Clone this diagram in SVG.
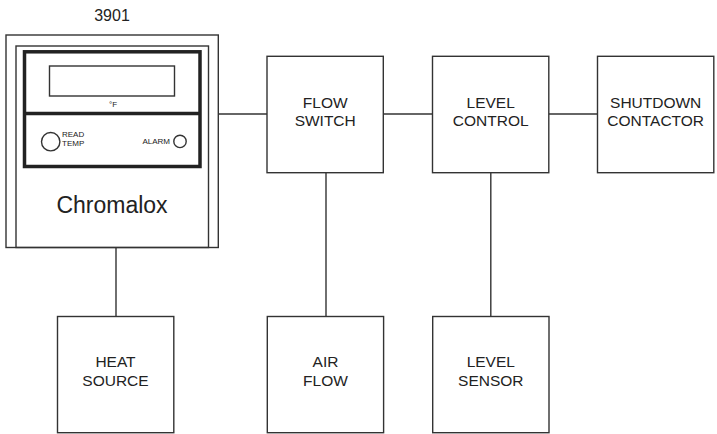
<svg xmlns="http://www.w3.org/2000/svg" width="717" height="434" viewBox="0 0 717 434">
<style>
.b{fill:#fff;stroke:#333;stroke-width:1.4}
.c{fill:none;stroke:#333;stroke-width:1.4}
.t{font-family:"Liberation Sans",Arial,sans-serif;fill:#222;text-anchor:middle}
.l{font-size:15.5px}
</style>
<rect width="717" height="434" fill="#fff"/>
<g id="connectors">
<line class="c" x1="218.3" y1="114" x2="267" y2="114"/>
<line class="c" x1="383.3" y1="114" x2="432.5" y2="114"/>
<line class="c" x1="548.8" y1="114" x2="597.5" y2="114"/>
<line class="c" x1="116" y1="247.5" x2="116" y2="316.5"/>
<line class="c" x1="326" y1="172.7" x2="326" y2="316.5"/>
<line class="c" x1="490.8" y1="172.7" x2="490.8" y2="316.5"/>
</g>
<g id="controller">
<text class="t" x="112" y="20.7" font-size="16">3901</text>
<rect class="b" x="6" y="35" width="212.3" height="212.5"/>
<rect class="c" x="16" y="46" width="192.5" height="201.5"/>
<rect x="24.5" y="51.8" width="175.5" height="114.7" fill="none" stroke="#222" stroke-width="3.5"/>
<line x1="24.5" y1="113.6" x2="200" y2="113.6" stroke="#222" stroke-width="3.5"/>
<rect class="c" x="49.5" y="66" width="125" height="30" stroke-width="1.2"/>
<text class="t" x="113" y="106.7" font-size="8">°F</text>
<circle class="c" cx="50.7" cy="141.7" r="9.2" stroke-width="1.3"/>
<text class="t" x="62" y="137.3" font-size="8" style="text-anchor:start">READ</text>
<text class="t" x="62" y="145.7" font-size="8" style="text-anchor:start">TEMP</text>
<text class="t" x="170" y="144" font-size="8" style="text-anchor:end">ALARM</text>
<circle class="c" cx="180" cy="141.4" r="6.2" stroke-width="1.3"/>
<text class="t" x="112" y="213.3" font-size="23">Chromalox</text>
</g>
<g id="flow-switch">
<rect class="b" x="267" y="56.3" width="116.3" height="116.4"/>
<text class="t l" x="325.2" y="107.7">FLOW</text>
<text class="t l" x="325.2" y="126">SWITCH</text>
</g>
<g id="level-control">
<rect class="b" x="432.5" y="56.3" width="116.3" height="116.4"/>
<text class="t l" x="490.7" y="107.7">LEVEL</text>
<text class="t l" x="490.7" y="126">CONTROL</text>
</g>
<g id="shutdown-contactor">
<rect class="b" x="597.5" y="56.3" width="116.3" height="116.4"/>
<text class="t l" x="655.7" y="107.7">SHUTDOWN</text>
<text class="t l" x="655.7" y="126">CONTACTOR</text>
</g>
<g id="heat-source">
<rect class="b" x="57.5" y="316.5" width="116.3" height="116.2"/>
<text class="t l" x="115.5" y="367">HEAT</text>
<text class="t l" x="115.5" y="385.8">SOURCE</text>
</g>
<g id="air-flow">
<rect class="b" x="267.3" y="316.5" width="116.3" height="116.2"/>
<text class="t l" x="325.5" y="367">AIR</text>
<text class="t l" x="325.5" y="385.8">FLOW</text>
</g>
<g id="level-sensor">
<rect class="b" x="432.7" y="316.5" width="116.3" height="116.2"/>
<text class="t l" x="490.8" y="367">LEVEL</text>
<text class="t l" x="490.8" y="385.8">SENSOR</text>
</g>
</svg>
